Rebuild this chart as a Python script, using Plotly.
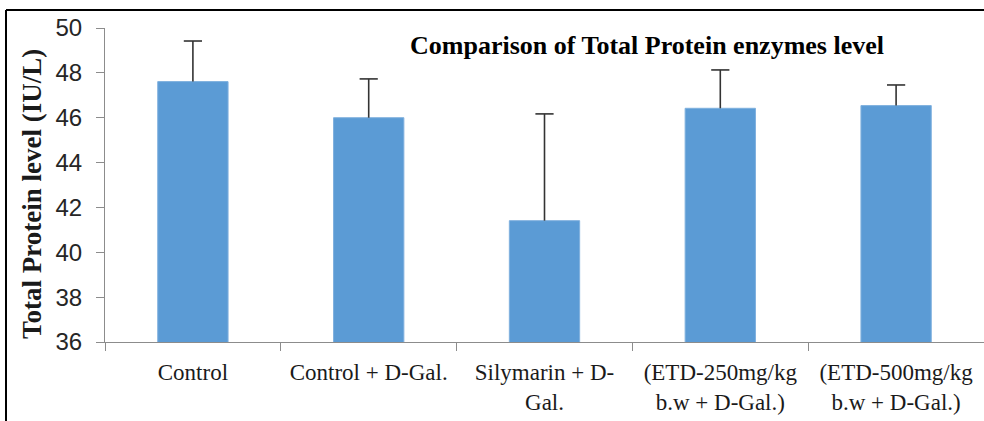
import plotly.graph_objects as go

categories = ["Control", "Control + D-Gal.", "Silymarin + D-<br>Gal.",
              "(ETD-250mg/kg<br>b.w + D-Gal.)", "(ETD-500mg/kg<br>b.w + D-Gal.)"]
values = [47.61, 46.0, 41.41, 46.42, 46.54]
errors_plus = [1.81, 1.73, 4.76, 1.71, 0.92]
y_ticks = [36, 38, 40, 42, 44, 46, 48, 50]

W, H = 984, 421
L, R, T, B = 105, 0, 28, 79
pw, ph = W - L - R, H - T - B

def px_x(p):
    return (p - L) / pw

def px_y(p):
    return (H - B - p) / ph

err_tops = [v + e for v, e in zip(values, errors_plus)]

fig = go.Figure()
fig.add_trace(go.Bar(
    x=categories, y=values, width=0.4,
    marker=dict(color="#5B9BD5", line=dict(color="#7FB0DE", width=1)),
    error_y=dict(type="data", symmetric=False, array=errors_plus,
                 arrayminus=[0] * len(values), color="#333333",
                 thickness=1.6, width=0),
))
fig.add_trace(go.Scatter(
    x=categories, y=err_tops, mode="markers", hoverinfo="skip",
    marker=dict(symbol="line-ew-open", size=13, color="#333333",
                line=dict(color="#333333", width=1.6)),
))

fig.update_layout(
    width=W, height=H,
    margin=dict(l=L, r=R, t=T, b=B),
    paper_bgcolor="white", plot_bgcolor="white",
    showlegend=False,
    bargap=0.6,
    xaxis=dict(showline=True, linecolor="#8C8C8C", linewidth=1.2,
               ticks="outside", tickson="boundaries", ticklen=8,
               tickcolor="#8C8C8C", ticklabelstandoff=9,
               tickfont=dict(family="Liberation Serif, Times New Roman, serif",
                             size=23, color="#1a1a1a"),
               showgrid=False),
    yaxis=dict(range=[36, 50], tickvals=y_ticks, showline=True,
               linecolor="#8C8C8C", linewidth=1.2, ticks="outside",
               ticklen=8, tickcolor="#8C8C8C", showgrid=False, zeroline=False,
               ticklabelstandoff=9,
               tickfont=dict(family="Liberation Sans, Arial, sans-serif",
                             size=24, color="#262626")),
    annotations=[
        dict(text="<b>Comparison of Total Protein enzymes level</b>",
             xref="paper", yref="paper", x=px_x(647), y=px_y(45),
             xanchor="center", yanchor="middle", showarrow=False,
             font=dict(family="Liberation Serif, Times New Roman, serif",
                       size=26, color="black")),
        dict(text="<b>Total Protein level (IU/L)</b>",
             xref="paper", yref="paper", x=px_x(32), y=px_y(194),
             xanchor="center", yanchor="middle", showarrow=False,
             textangle=-90,
             font=dict(family="Liberation Serif, Times New Roman, serif",
                       size=27, color="#1a1a1a")),
    ],
    shapes=[
        dict(type="line", xref="paper", yref="paper",
             x0=px_x(6), x1=px_x(6), y0=px_y(10), y1=px_y(H + 2),
             line=dict(color="black", width=2)),
        dict(type="line", xref="paper", yref="paper",
             x0=px_x(6), x1=px_x(W + 2), y0=px_y(10), y1=px_y(10),
             line=dict(color="black", width=2)),
    ],
)

fig.write_html("out.html",
               config={"displayModeBar": False},
               post_script="document.body.style.margin='0';"
                           "document.body.style.overflow='hidden';")
